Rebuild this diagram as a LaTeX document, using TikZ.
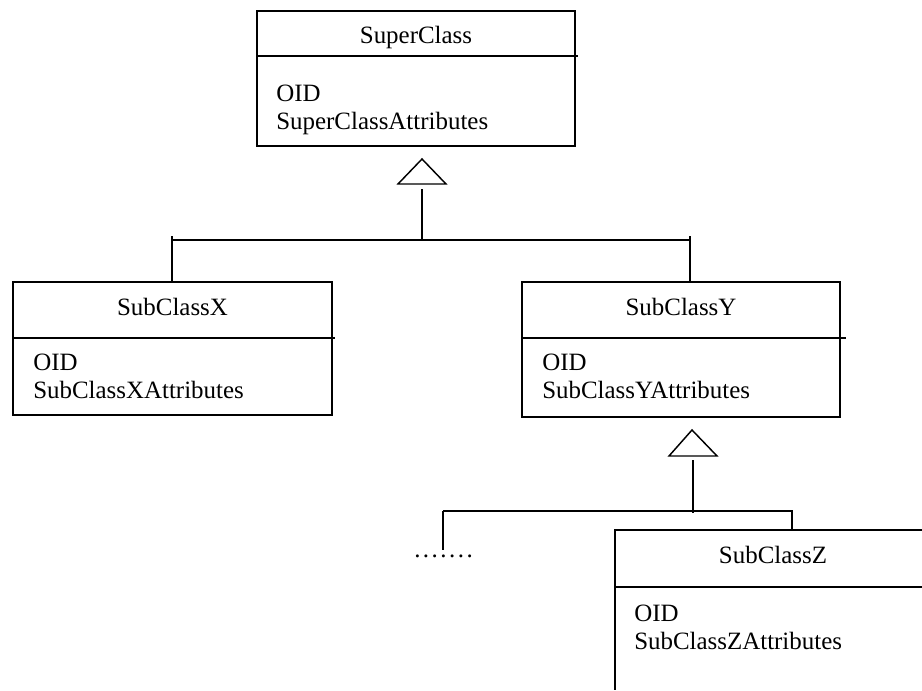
\documentclass[tikz,border=0pt]{standalone}
\usepackage{fontspec}
\setmainfont{Liberation Serif}
\begin{document}
\begin{tikzpicture}[x=0.75pt,y=-0.75pt,
  ln/.style={line width=1.1pt,line cap=rect},
  classbox/.style={draw,line width=1.1pt,rectangle,inner sep=0pt},
  txt/.style={inner sep=0pt,font=\fontsize{18.7}{22}\selectfont},
  title/.style={txt,anchor=base},
  attr/.style={txt,anchor=base west},
  gen/.style={line width=1.1pt,line join=miter}]
\useasboundingbox[fill=white] (0,0) rectangle (922,690);
% boxes
\node[classbox,minimum width=238.5pt,minimum height=101.25pt] (super) at (416,78.5) {};
\node[classbox,minimum width=239.25pt,minimum height=99.75pt] (subX) at (172.5,348.5) {};
\node[classbox,minimum width=238.5pt,minimum height=101.25pt] (subY) at (681,349.5) {};
% dividers
\draw[ln] (super.west |- 0,56) -- (577,56);
\draw[ln] (subX.west |- 0,338) -- (334,338);
\draw[ln] (subY.west |- 0,338) -- (845,338);
% SubClassZ (cut off by the page)
\coordinate (zTL) at (615,530);
\draw[ln,line cap=butt] (922,530) -- (zTL) -- (615,690);
\draw[ln,line cap=butt] (615,587) -- (922,587);
% texts
\node[title] (superT) at (416,43) {SuperClass};
\node[attr] (superO) at (276,101) {OID};
\node[attr] (superA) at (276,129) {SuperClassAttributes};
\node[title] (subXT) at (172.5,315) {SubClassX};
\node[attr] (subXO) at (33,370) {OID};
\node[attr] (subXA) at (33,398) {SubClassXAttributes};
\node[title] (subYT) at (681,315) {SubClassY};
\node[attr] (subYO) at (542,370) {OID};
\node[attr] (subYA) at (542,398) {SubClassYAttributes};
\node[title] (subZT) at (773,563) {SubClassZ};
\node[attr] (subZO) at (634,621) {OID};
\node[attr] (subZA) at (634,649) {SubClassZAttributes};
\node[attr] (dots) at (414,557) {\addfontfeatures{LetterSpace=10}.......};
% generalisation 1
\coordinate (g1apex) at (422,159);
\coordinate (g1stem) at (422,189);
\coordinate (g1join) at (422,241);
\coordinate (g1L) at (172,240);
\coordinate (g1R) at (691,240);
\draw[gen] (g1apex) -- (398,184) -- (446,184) -- cycle;
\draw[ln,line cap=butt] (g1stem) -- (g1join);
\draw[ln,line cap=butt] (g1L) -- (g1R);
\draw[ln,line cap=butt] (172,236) -- (172,0 |- subX.north);
\draw[ln,line cap=butt] (690,236) -- (690,0 |- subY.north);
% generalisation 2
\coordinate (g2apex) at (692,430);
\coordinate (g2stem) at (693,460);
\coordinate (g2join) at (693,513);
\coordinate (g2L) at (443,511);
\coordinate (g2R) at (792,511);
\draw[gen] (g2apex) -- (669,456) -- (717,456) -- cycle;
\draw[ln,line cap=butt] (g2stem) -- (g2join);
\draw[ln,line cap=butt] (443,511) -- (g2R) -- (792,530);
\draw[ln,line cap=butt] (g2L) -- (443,550);
\end{tikzpicture}
\end{document}
